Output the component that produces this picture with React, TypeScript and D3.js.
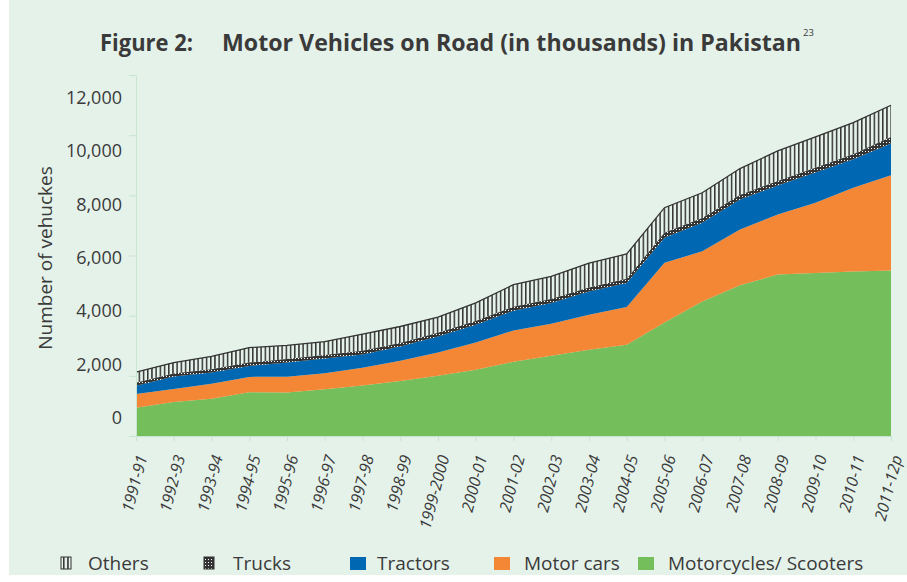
import React, { useEffect, useRef } from "react"
import * as d3 from "d3"

// values in thousands
const years = [
  "1991-91", "1992-93", "1993-94", "1994-95", "1995-96", "1996-97", "1997-98",
  "1998-99", "1999-2000", "2000-01", "2001-02", "2002-03", "2003-04", "2004-05",
  "2005-06", "2006-07", "2007-08", "2008-09", "2009-10", "2010-11", "2011-12p"
]
const motorcycles = [940, 1130, 1235, 1455, 1445, 1555, 1675, 1825, 2000, 2200, 2465, 2665, 2865, 3035, 3775, 4475, 5015, 5365, 5415, 5465, 5500]
const motorCars = [455, 435, 500, 510, 525, 535, 590, 675, 775, 910, 1045, 1065, 1165, 1255, 1980, 1665, 1850, 2000, 2340, 2790, 3165]
const tractors = [275, 410, 375, 365, 475, 485, 445, 475, 535, 590, 655, 690, 775, 800, 835, 945, 1000, 965, 1000, 945, 1055]
const trucks = [100, 105, 110, 110, 115, 115, 120, 120, 125, 125, 130, 130, 135, 140, 165, 165, 150, 150, 165, 165, 220]
const others = [355, 360, 425, 500, 450, 450, 560, 545, 520, 600, 735, 755, 810, 820, 835, 835, 875, 995, 1020, 1055, 1055]

const yTicks = [0, 2000, 4000, 6000, 8000, 10000, 12000]

const keys = ["motorcycles", "motorCars", "tractors", "trucks", "others"]
const legendNames = ["Others", "Trucks", "Tractors", "Motor cars", "Motorcycles/ Scooters"]
const legendKeys = ["others", "trucks", "tractors", "motorCars", "motorcycles"]

const W = 907
const H = 582
const FONT = "'Open Sans', 'Noto Sans', sans-serif"
const INK = "#3a3a3a"
const AXIS = "#c9e4d1"

const fills: Record<string, string> = {
  motorcycles: "#74bf5b",
  motorCars: "#f48735",
  tractors: "#0068b3",
  trucks: "url(#trucksPat)",
  others: "url(#othersPat)"
}

export default function App() {
  const ref = useRef<SVGSVGElement>(null)

  useEffect(() => {
    const svg = d3.select(ref.current)
    svg.selectAll("*").remove()

    const defs = svg.append("defs")
    const op = defs.append("pattern")
      .attr("id", "othersPat")
      .attr("patternUnits", "userSpaceOnUse")
      .attr("width", 4.2)
      .attr("height", 10)
    op.append("rect").attr("x", 0).attr("y", 0).attr("width", 1.5).attr("height", 10).attr("fill", "#333")

    const tp = defs.append("pattern")
      .attr("id", "trucksPat")
      .attr("patternUnits", "userSpaceOnUse")
      .attr("width", 3)
      .attr("height", 3)
    tp.append("rect").attr("width", 3).attr("height", 3).attr("fill", "#333")
    tp.append("rect").attr("x", 1).attr("y", 1).attr("width", 1).attr("height", 1).attr("fill", "#fff")

    svg.append("rect").attr("width", W).attr("height", H).attr("fill", "#fff")
    svg.append("rect").attr("x", 9).attr("y", 0).attr("width", W - 9).attr("height", 575).attr("fill", "#e5f2ea")

    const rows = years.map((year, i) => ({
      year,
      motorcycles: motorcycles[i],
      motorCars: motorCars[i],
      tractors: tractors[i],
      trucks: trucks[i],
      others: others[i]
    }))

    const x = d3.scalePoint().domain(years).range([136, 891])
    const y = d3.scaleLinear().domain([0, 12000]).range([436, 75])
    // labels in the original sit slightly off the tick marks
    const yLabel = d3.scaleLinear().domain([0, 12000]).range([418, 97.5])

    const series = d3.stack().keys(keys)(rows as any)

    const area = d3.area<any>()
      .x(d => x(d.data.year) as number)
      .y0(d => y(d[0]))
      .y1(d => y(d[1]))

    svg.append("g")
      .selectAll("path")
      .data(series)
      .enter()
      .append("path")
      .attr("d", d => area(d as any))
      .attr("fill", d => fills[d.key])

    // outline on top of the "others" band
    const top = series[series.length - 1]
    const line = d3.line<any>()
      .x(d => x(d.data.year) as number)
      .y(d => y(d[1]))
    svg.append("path")
      .attr("d", line(top as any))
      .attr("fill", "none")
      .attr("stroke", "#333")
      .attr("stroke-width", 1.3)

    // x axis
    const gx = svg.append("g")
      .attr("transform", "translate(0,436)")
      .call(d3.axisBottom(x).tickSize(5).tickSizeOuter(0))
    gx.select(".domain").attr("stroke", AXIS)
    gx.selectAll(".tick line").attr("stroke", AXIS)
    gx.selectAll(".tick text")
      .attr("x", 0)
      .attr("y", 0)
      .attr("dy", 0)
      .attr("text-anchor", "end")
      .attr("transform", "translate(11,21) rotate(-75)")
      .attr("fill", INK)
      .style("font-family", FONT)
      .style("font-size", "16px")
      .style("font-style", "italic")

    // y axis line + tick marks
    const gy = svg.append("g")
      .attr("transform", "translate(136,0)")
      .call(d3.axisLeft(y).tickValues(yTicks).tickSize(7).tickSizeOuter(0).tickFormat(() => ""))
    gy.select(".domain").attr("stroke", AXIS)
    gy.selectAll(".tick line").attr("stroke", AXIS)

    // y tick labels
    const gl = svg.append("g")
      .attr("transform", "translate(125,0)")
      .call(d3.axisLeft(yLabel).tickValues(yTicks).tickSize(0).tickPadding(3).tickFormat(d3.format(",") as any))
    gl.select(".domain").remove()
    gl.selectAll(".tick text")
      .attr("fill", INK)
      .style("font-family", FONT)
      .style("font-size", "18px")

    svg.append("text")
      .attr("transform", "translate(45,258) rotate(-90)")
      .attr("text-anchor", "middle")
      .attr("dominant-baseline", "central")
      .attr("fill", INK)
      .style("font-family", FONT)
      .style("font-size", "19px")
      .text("Number of vehuckes")

    // title
    svg.append("text")
      .attr("x", 100)
      .attr("y", 51)
      .attr("textLength", 93)
      .attr("lengthAdjust", "spacingAndGlyphs")
      .attr("fill", INK)
      .style("font-family", FONT)
      .style("font-size", "23px")
      .style("font-weight", "bold")
      .text("Figure 2:")
    svg.append("text")
      .attr("x", 222)
      .attr("y", 51)
      .attr("textLength", 579)
      .attr("lengthAdjust", "spacingAndGlyphs")
      .attr("fill", INK)
      .style("font-family", FONT)
      .style("font-size", "23px")
      .style("font-weight", "bold")
      .text("Motor Vehicles on Road (in thousands) in Pakistan")
    svg.append("text")
      .attr("x", 803)
      .attr("y", 36)
      .attr("fill", INK)
      .style("font-family", FONT)
      .style("font-size", "9.5px")
      .text("23")

    // legend
    const iconX = [61, 204, 350, 494, 638]
    const textX = [88, 233, 377, 524, 668]
    const lg = svg.append("g")
    legendKeys.forEach((k, i) => {
      const patterned = k === "others" || k === "trucks"
      lg.append("rect")
        .attr("x", iconX[i])
        .attr("y", 557)
        .attr("width", patterned ? 10 : 16)
        .attr("height", patterned ? 12 : 13)
        .attr("fill", fills[k])
        .attr("stroke", patterned ? "#333" : "none")
        .attr("stroke-width", 1)
      lg.append("text")
        .attr("x", textX[i])
        .attr("y", 570)
        .attr("fill", INK)
        .style("font-family", FONT)
        .style("font-size", "19px")
        .text(legendNames[i])
    })
  }, [])

  return (
    <>
      <style>{"body{margin:0}"}</style>
      <svg ref={ref} width={W} height={H} style={{ display: "block" }} />
    </>
  )
}
